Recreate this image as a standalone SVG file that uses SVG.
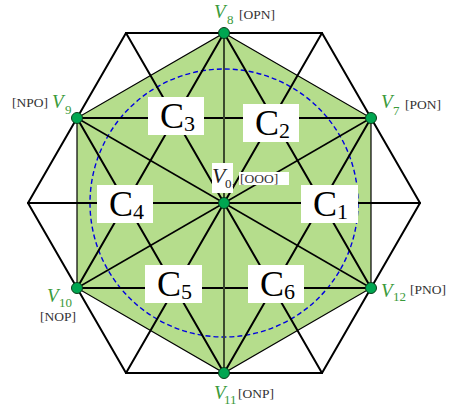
<svg xmlns="http://www.w3.org/2000/svg" width="452" height="415" viewBox="0 0 452 415">
<style>
text{font-family:"Liberation Serif","Times New Roman","DejaVu Serif",serif}
.grid{stroke:#000;stroke-width:2;fill:none;stroke-linecap:round}
.med{stroke:#000;stroke-width:1.5;fill:none}
.box{fill:#fff}
.cl{font-size:36px;fill:#000}
.cs{font-size:22px;fill:#000}
.vl{font-style:italic;font-size:19px;fill:#3a9a3a}
.vs{font-size:13px;fill:#3a9a3a}
.st{font-size:13.5px;fill:#333}
.dot{fill:#00a651;stroke:#0b3d1a;stroke-width:1}
</style>
<rect width="452" height="415" fill="#fff"/>
<polygon id="inner-hexagon" points="224,33 371,118 371,288 224,373 77,288 77,118" fill="#b5dd8c" stroke="#000" stroke-width="1.2"/>
<circle id="circle" cx="224" cy="203" r="134" fill="none" stroke="#0000e0" stroke-width="1.4" stroke-dasharray="5,3"/>
<g id="connectors">
<line class="grid" x1="126" y1="33" x2="322" y2="33"/>
<line class="grid" x1="77" y1="118" x2="371" y2="118"/>
<line class="grid" x1="28" y1="203" x2="420" y2="203"/>
<line class="grid" x1="77" y1="288" x2="371" y2="288"/>
<line class="grid" x1="126" y1="373" x2="322" y2="373"/>
<line class="grid" x1="126" y1="33" x2="322" y2="373"/>
<line class="grid" x1="224" y1="33" x2="371" y2="288"/>
<line class="grid" x1="322" y1="33" x2="420" y2="203"/>
<line class="grid" x1="77" y1="118" x2="224" y2="373"/>
<line class="grid" x1="28" y1="203" x2="126" y2="373"/>
<line class="grid" x1="322" y1="33" x2="126" y2="373"/>
<line class="grid" x1="224" y1="33" x2="77" y2="288"/>
<line class="grid" x1="126" y1="33" x2="28" y2="203"/>
<line class="grid" x1="371" y1="118" x2="224" y2="373"/>
<line class="grid" x1="420" y1="203" x2="322" y2="373"/>
<line class="med" x1="77" y1="118" x2="371" y2="288"/>
<line class="med" x1="371" y1="118" x2="77" y2="288"/>
<line x1="224" y1="33" x2="224" y2="373" stroke="#3b4a2e" stroke-width="2"/>
</g>
<g id="C3"><rect class="box" x="148" y="97" width="56" height="38"/><text class="cl" x="160" y="128">C</text><text class="cs" x="184" y="131">3</text></g>
<g id="C2"><rect class="box" x="243" y="104" width="56" height="38"/><text class="cl" x="255" y="135">C</text><text class="cs" x="279" y="138">2</text></g>
<g id="C1"><rect class="box" x="301" y="185" width="57" height="38"/><text class="cl" x="313" y="216">C</text><text class="cs" x="337" y="219">1</text></g>
<g id="C4"><rect class="box" x="97" y="185" width="56" height="38"/><text class="cl" x="109" y="216">C</text><text class="cs" x="133" y="219">4</text></g>
<g id="C5"><rect class="box" x="145" y="265" width="57" height="38"/><text class="cl" x="157" y="296">C</text><text class="cs" x="181" y="299">5</text></g>
<g id="C6"><rect class="box" x="248" y="265" width="56" height="38"/><text class="cl" x="260" y="296">C</text><text class="cs" x="284" y="299">6</text></g>
<g id="V0">
<rect class="box" x="212" y="163" width="21" height="30"/>
<rect class="box" x="239" y="172" width="50" height="13"/>
<circle class="dot" cx="224" cy="203" r="5.5"/>
<text x="212" y="183" font-style="italic" font-size="22" fill="#222">V</text>
<text x="225" y="188" font-size="13" fill="#222">0</text>
<text x="232" y="185" font-size="13" fill="#222">,</text>
<text class="st" x="240" y="183">[OOO]</text>
</g>
<g id="V8"><circle class="dot" cx="224" cy="33" r="5.5"/><text class="vl" x="214" y="18">V</text><text class="vs" x="227" y="24">8</text><text class="st" x="239" y="19">[OPN]</text></g>
<g id="V9"><circle class="dot" cx="77" cy="118" r="5.5"/><text class="st" x="12" y="107">[NPO]</text><text class="vl" x="52" y="108">V</text><text class="vs" x="65" y="114">9</text></g>
<g id="V7"><circle class="dot" cx="371" cy="118" r="5.5"/><text class="vl" x="381" y="108">V</text><text class="vs" x="393" y="115">7</text><text class="st" x="405" y="109">[PON]</text></g>
<g id="V10"><circle class="dot" cx="77" cy="288" r="5.5"/><text class="vl" x="47" y="302">V</text><text class="vs" x="59" y="307">10</text><text class="st" x="40" y="321">[NOP]</text></g>
<g id="V12"><circle class="dot" cx="371" cy="288" r="5.5"/><text class="vl" x="381" y="297">V</text><text class="vs" x="393" y="301">12</text><text class="st" x="410" y="294">[PNO]</text></g>
<g id="V11"><circle class="dot" cx="224" cy="373" r="5.5"/><text class="vl" x="214" y="399">V</text><text class="vs" x="224" y="404">11</text><text class="st" x="238" y="398">[ONP]</text></g>
</svg>
